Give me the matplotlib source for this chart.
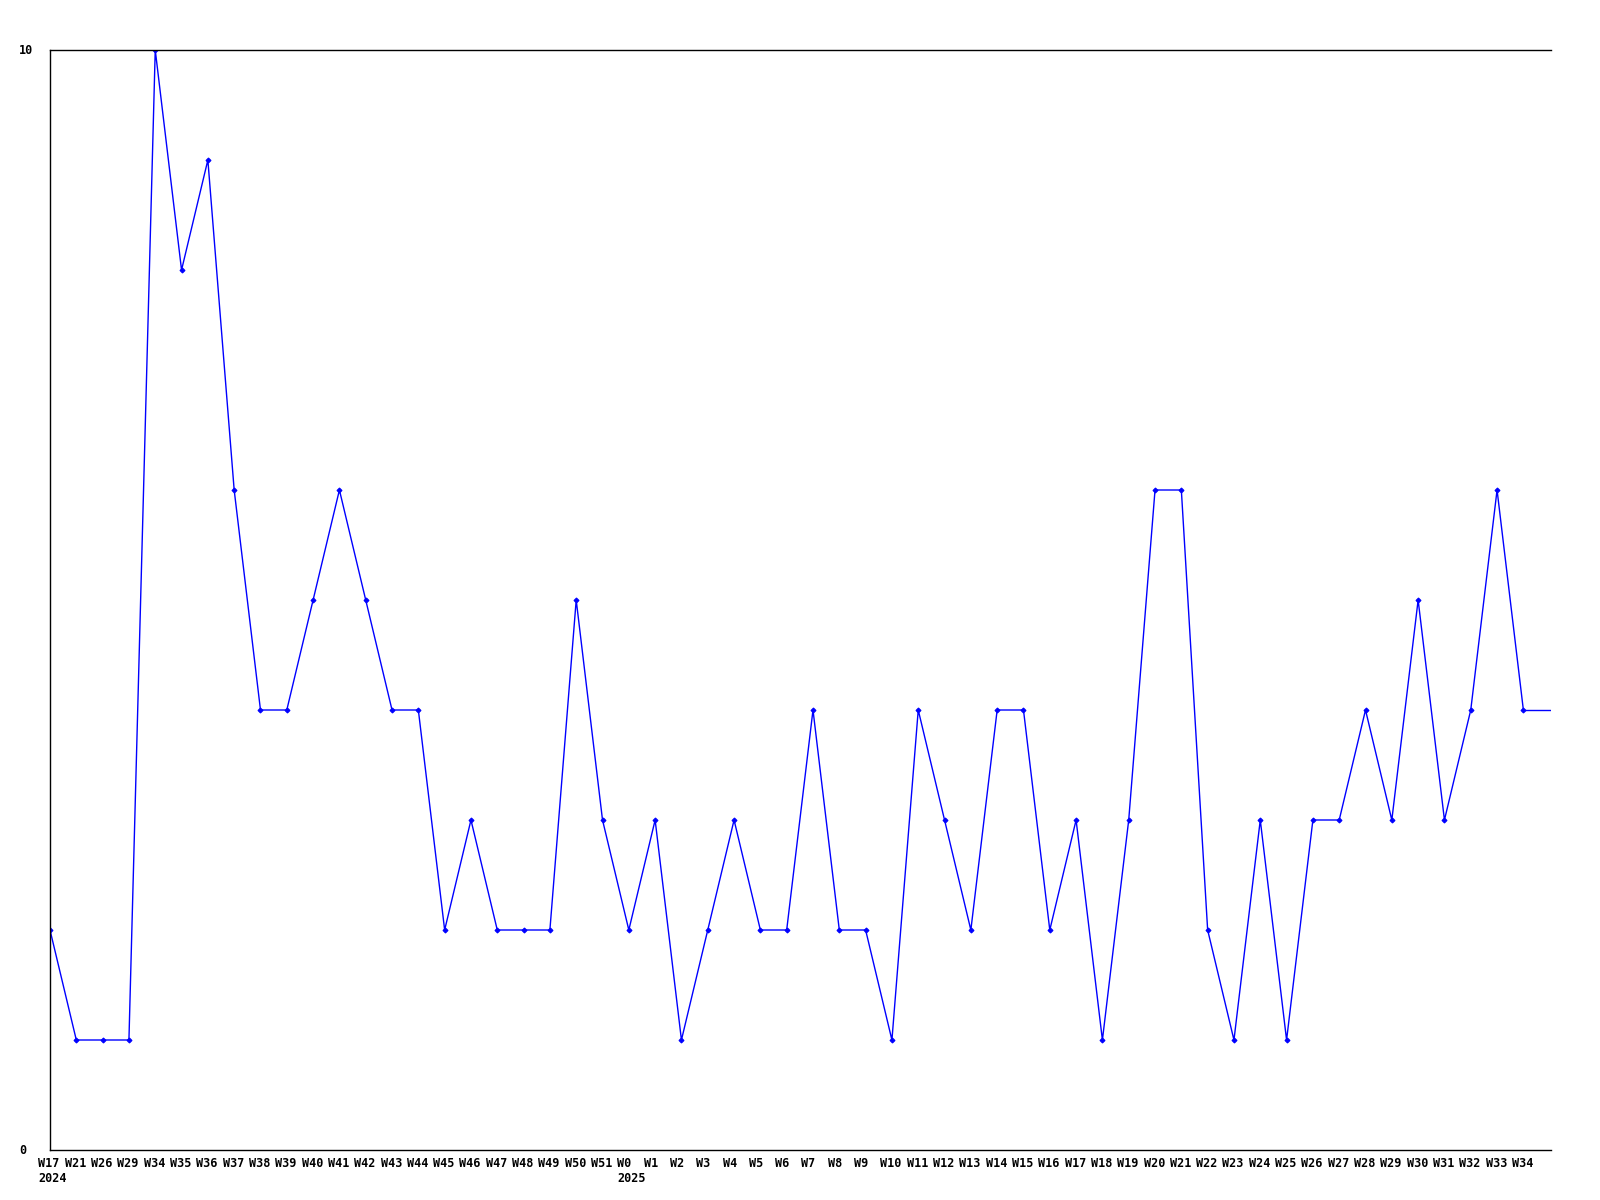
import matplotlib
matplotlib.use("Agg")
import matplotlib.pyplot as plt
import matplotlib.transforms as mtransforms

weeks_2024 = ["W17", "W21", "W26", "W29", "W34", "W35", "W36", "W37", "W38", "W39", "W40",
              "W41", "W42", "W43", "W44", "W45", "W46", "W47", "W48", "W49", "W50", "W51"]
weeks_2025 = ["W0", "W1", "W2", "W3", "W4", "W5", "W6", "W7", "W8", "W9", "W10", "W11",
              "W12", "W13", "W14", "W15", "W16", "W17", "W18", "W19", "W20", "W21", "W22",
              "W23", "W24", "W25", "W26", "W27", "W28", "W29", "W30", "W31", "W32", "W33", "W34"]
values_2024 = [2, 1, 1, 1, 10, 8, 9, 6, 4, 4, 5, 6, 5, 4, 4, 2, 3, 2, 2, 2, 5, 3]
values_2025 = [2, 3, 1, 2, 3, 2, 2, 4, 2, 2, 1, 4, 3, 2, 4, 4, 2, 3, 1, 3, 6, 6, 2,
               1, 3, 1, 3, 3, 4, 3, 5, 3, 4, 6, 4]
year_labels = {0: "2024", len(weeks_2024): "2025"}
y_ticks = [0, 10]

labels = weeks_2024 + weeks_2025
values = values_2024 + values_2025
xs = list(range(len(values)))

fig = plt.figure(figsize=(16, 12), dpi=100)
ax = fig.add_axes([50 / 1600, 1 - 1150 / 1200, 1501 / 1600, 1100 / 1200])
ax.plot(xs, values, color="#0000ff", lw=1.0, marker="D", ms=2.5, mew=0.8)
# flat continuation of the last value to the right edge
xmax = len(values)
ax.plot([xs[-1], xmax], [values[-1], values[-1]], color="#0000ff", lw=1.0)
ax.set_xlim(0, xmax + 0.05)
ax.set_ylim(0, 10)

ax.spines["right"].set_visible(False)
for s in ["left", "top", "bottom"]:
    ax.spines[s].set_linewidth(1.0)
    ax.spines[s].set_color("black")

ax.set_xticks([])
ax.set_yticks([])

font = dict(family="DejaVu Sans Mono", fontweight="bold", fontsize=8.5)
ytrans = mtransforms.blended_transform_factory(fig.transFigure, ax.transData)
for t in y_ticks:
    ax.text(19 / 1600, t, str(t), transform=ytrans, ha="left", va="center", **font)

trans = mtransforms.blended_transform_factory(ax.transData, ax.transAxes)
off1 = mtransforms.ScaledTranslation(-11.5 / 100, -7 / 100, fig.dpi_scale_trans)
off2 = mtransforms.ScaledTranslation(-11.5 / 100, -22 / 100, fig.dpi_scale_trans)
for i, lab in enumerate(labels):
    ax.text(i, 0, lab, transform=trans + off1, ha="left", va="top", **font)
for i, yl in year_labels.items():
    ax.text(i, 0, yl, transform=trans + off2, ha="left", va="top", **font)

fig.savefig("out.png", dpi=100)
